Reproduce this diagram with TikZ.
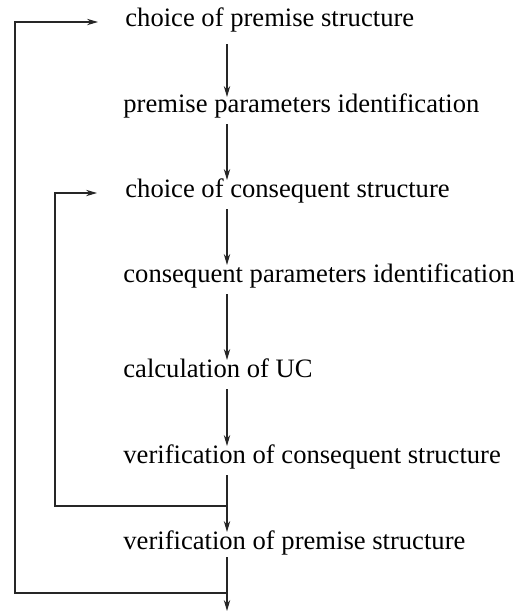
\documentclass[tikz,border=0pt]{standalone}
\usepackage{fontspec}
\setmainfont{Liberation Serif}
\usetikzlibrary{arrows.meta}
\begin{document}
\begin{tikzpicture}[x=0.5pt,y=-0.5pt,
  lbl/.style={anchor=mid west, inner sep=0pt, font=\fontsize{13.3}{15}\selectfont},
  conn/.style={line width=0.55pt, draw=black!85},
  arr/.style={conn, -{Stealth[length=5.5pt,width=3.2pt,inset=1.8pt]}},
  vstep/.style={arr, shorten <=8pt, shorten >=6.5pt}]
\useasboundingbox (0,0) rectangle (517,612);
\node[lbl] (n1) at (125,22) {choice of premise structure};
\node[lbl] (n2) at (123,108) {premise parameters identification};
\node[lbl] (n3) at (125,193) {choice of consequent structure};
\node[lbl] (n4) at (123,278) {consequent parameters identification};
\node[lbl] (n5) at (123,373) {calculation of UC};
\node[lbl] (n6) at (123,459) {verification of consequent structure};
\node[lbl] (n7) at (123,545) {verification of premise structure};
\coordinate (col) at (227,0);
\coordinate (j1) at (227,506);
\coordinate (j2) at (227,593);
\coordinate (fin) at (227,611);
\coordinate (in1) at (55,0);
\coordinate (out1) at (15,0);
\draw[arr, shorten <=11pt, shorten >=5.5pt] (n1.mid -| col) -- (n2.mid -| col);
\draw[vstep] (n2.mid -| col) -- (n3.mid -| col);
\draw[vstep] (n3.mid -| col) -- (n4.mid -| col);
\draw[vstep] (n4.mid -| col) -- (n5.mid -| col);
\draw[vstep] (n5.mid -| col) -- (n6.mid -| col);
\draw[vstep] (n6.mid -| col) -- (n7.mid -| col);
\draw[arr, shorten <=6pt] (n7.mid -| col) -- (fin);
\draw[arr, shorten >=14pt] (j1) -| (in1 |- n3.mid west) -- (n3.mid west);
\draw[arr, shorten >=13.5pt] (j2) -| (out1 |- n1.mid west) -- (n1.mid west);
\end{tikzpicture}
\end{document}
